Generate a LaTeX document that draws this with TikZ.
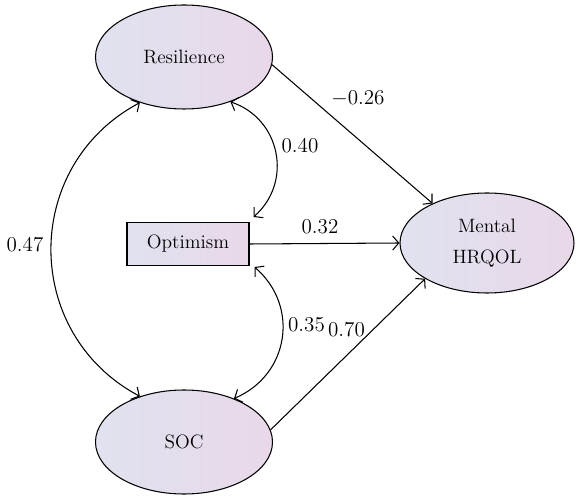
\documentclass[tikz,border=0pt]{standalone}
\usetikzlibrary{arrows.meta, shapes.geometric}
\definecolor{cleft}{HTML}{E0E2EF}
\definecolor{cright}{HTML}{E9D8E9}
\tikzset{
  every picture/.style={font=\fontsize{11}{13}\selectfont, line width=0.6pt},
  latent/.style={ellipse, draw, left color=cleft, right color=cright, minimum width=3.54cm, minimum height=2.08cm, inner sep=0pt, align=center},
  observed/.style={rectangle, draw, left color=cleft, right color=cright, minimum width=2.44cm, minimum height=0.86cm, inner sep=0pt},
  path/.style={-{Straight Barb[length=3.5pt, width=8pt]}},
  cov/.style={{Straight Barb[length=3.5pt, width=8pt]}-{Straight Barb[length=3.5pt, width=8pt]}},
  coef/.style={inner sep=1pt, font=\fontsize{12}{14}\selectfont},
}

\begin{document}
\begin{tikzpicture}
  \useasboundingbox (0,0) rectangle (11.52,9.96);
  % constructs
  \node[latent] (res) at (3.68,8.82) {Resilience};
  \node[latent] (soc) at (3.68,1.12) {SOC};
  \node[observed] (opt) at (3.76,5.08) {Optimism};
  \node[latent, minimum width=3.48cm, minimum height=2.0cm, font=\fontsize{11}{18}\selectfont] (hrqol) at (9.74,5.10) {Mental\\HRQOL};
  % paths to the outcome
  \draw[path] (res.-5) -- (hrqol.144);
  \draw[path] (opt.east) -- (hrqol.west);
  \draw[path] (soc.8) -- (hrqol.210);
  % correlations
  \draw[cov] (res.-44) to[bend left=60, looseness=1.15] ([shift={(0.08,0.1)}]opt.north east);
  \draw[cov] ([shift={(0.1,-0.02)}]opt.south east) to[bend left=58, looseness=1.15] (soc.41);
  \draw[cov] (res.-134) to[bend right=62, looseness=1.17] (soc.134);
  % coefficients
  \node[coef] (c1) at (7.16,8.00) {$-$0.26};
  \node[coef] (c2) at (6.00,7.04) {0.40};
  \node[coef] (c3) at (6.40,5.42) {0.32};
  \node[coef] (c4) at (6.13,3.46) {0.35};
  \node[coef] (c5) at (6.93,3.36) {0.70};
  \node[coef] (c6) at (0.50,5.06) {0.47};
\end{tikzpicture}
\end{document}
